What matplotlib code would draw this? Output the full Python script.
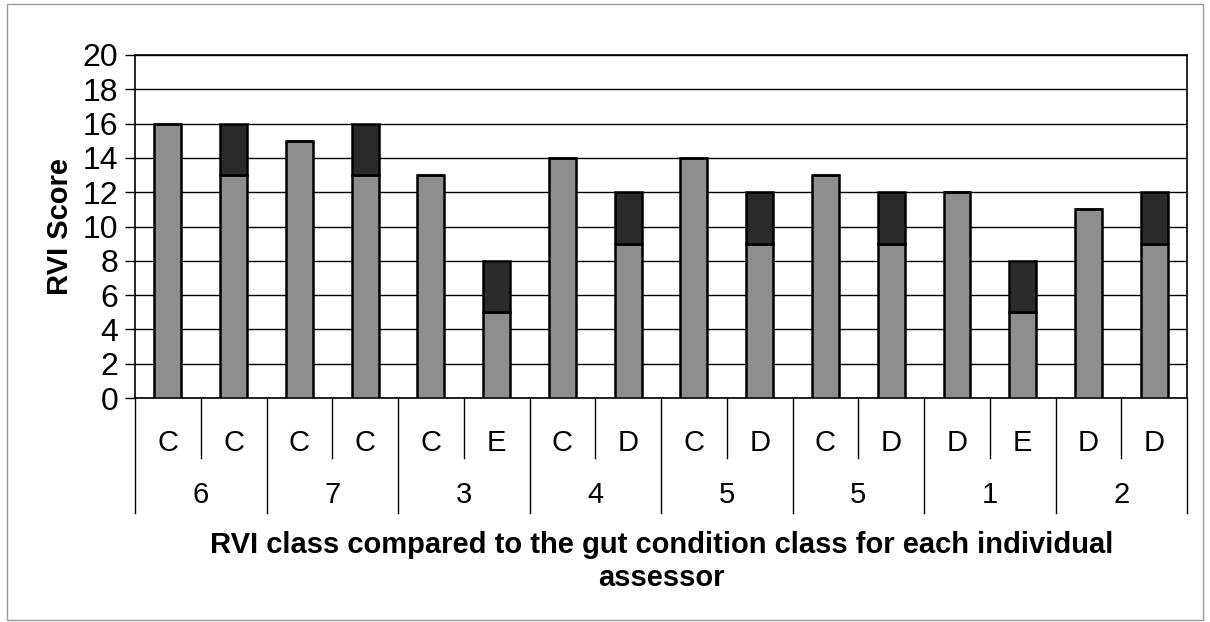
import numpy as np
import matplotlib.pyplot as plt
from matplotlib.patches import Rectangle

plt.rcParams['font.family'] = ['Liberation Sans', 'DejaVu Sans']

# data
classes = ['C', 'C', 'C', 'C', 'C', 'E', 'C', 'D', 'C', 'D', 'C', 'D', 'D', 'E', 'D', 'D']
groups = ['6', '7', '3', '4', '5', '5', '1', '2']
base = [16, 13, 15, 13, 13, 5, 14, 9, 14, 9, 13, 9, 12, 5, 11, 9]
top = [0, 3, 0, 3, 0, 3, 0, 3, 0, 3, 0, 3, 0, 3, 0, 3]

GRAY = '#8e8e8e'
DARK = '#2b2b2b'

fig = plt.figure(figsize=(12.1, 6.22), dpi=100)
ax = fig.add_axes([0.1116, 0.36, 0.8695, 0.5516])

x = np.arange(len(classes))
ax.bar(x, base, width=0.41, color=GRAY, edgecolor='black', linewidth=1.8, zorder=3)
ax.bar(x, top, width=0.41, bottom=base, color=DARK, edgecolor='black', linewidth=1.8, zorder=3)

ax.set_xlim(-0.5, len(classes) - 0.5)
ax.set_ylim(0, 20)
ax.set_yticks(range(0, 21, 2))
ax.tick_params(axis='y', labelsize=23, length=7, width=1, direction='out', pad=5)
ax.tick_params(axis='x', bottom=False, labelbottom=False)
ax.yaxis.grid(True, color='black', linewidth=1)
ax.set_axisbelow(True)
for s in ax.spines.values():
    s.set_linewidth(1.2)
ax.set_ylabel('RVI Score', fontsize=21, fontweight='bold', labelpad=6)

# two level category axis
tr = ax.get_xaxis_transform()
for i, c in enumerate(classes):
    ax.text(i, -0.131, c, transform=tr, ha='center', va='center', fontsize=21)
for j, g in enumerate(groups):
    ax.text(2 * j + 0.5, -0.283, g, transform=tr, ha='center', va='center', fontsize=21)
for k in range(len(classes) + 1):
    xb = k - 0.5
    ylo = -0.335 if k % 2 == 0 else -0.175
    ax.plot([xb, xb], [0, ylo], transform=tr, color='black', linewidth=1, clip_on=False)

fig.text(0.547, 0.097, 'RVI class compared to the gut condition class for each individual\nassessor',
         ha='center', va='center', fontsize=21, fontweight='bold', linespacing=1.2)

fig.patches.append(Rectangle((0.006, 0.004), 0.988, 0.99, transform=fig.transFigure,
                             fill=False, edgecolor='#999999', linewidth=1))

fig.savefig('out.png', dpi=100)
